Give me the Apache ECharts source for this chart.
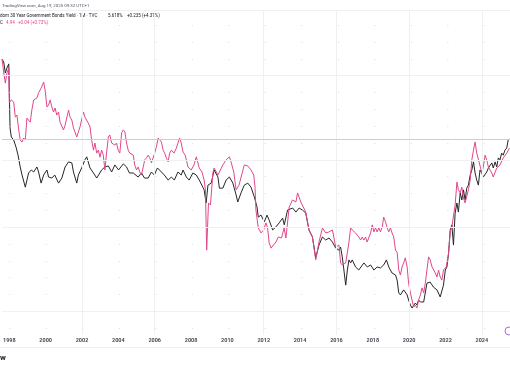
<!DOCTYPE html>
<html>
<head>
<meta charset="utf-8">
<script src="https://cdn.jsdelivr.net/npm/echarts@6/dist/echarts.min.js"></script>
<style>
html,body{margin:0;padding:0;background:#ffffff;}
#chart{width:510px;height:369px;}
</style>
</head>
<body>
<div id="chart"></div>
<script>
// ---- data ----
const yearTicks = [1998,2000,2002,2004,2006,2008,2010,2012,2014,2016,2018,2020,2022,2024];
const majorXYears = [2002,2006,2012,2016,2020,2024];
const majorYLevels = [0.5,3,5,7.5];
const minorYLevels = [0,0.5,1,1.5,2,2.5,3,3.5,4,4.5,5,5.5,6,6.5,7,7.5,8,8.5,9];
const lastValue = 5.618;

// UK 30Y (black)
const kTime = [1997.60,1997.69,1997.78,1997.87,1997.97,1998.04,1998.11,1998.24,1998.37,1998.48,1998.60,1998.70,1998.88,1998.97,1999.06,1999.21,1999.34,1999.52,1999.61,1999.75,1999.89,2000.07,2000.16,2000.34,2000.50,2000.71,2000.89,2001.07,2001.26,2001.44,2001.53,2001.71,2001.80,2001.98,2002.16,2002.26,2002.44,2002.63,2002.81,2003.08,2003.26,2003.45,2003.63,2003.81,2004.01,2004.27,2004.45,2004.61,2004.82,2005.09,2005.27,2005.44,2005.64,2005.82,2005.98,2006.15,2006.37,2006.53,2006.74,2006.92,2007.08,2007.28,2007.46,2007.56,2007.74,2007.90,2008.10,2008.29,2008.45,2008.65,2008.72,2008.83,2008.93,2009.11,2009.27,2009.48,2009.56,2009.75,2009.93,2010.11,2010.30,2010.48,2010.57,2010.75,2010.93,2011.12,2011.30,2011.48,2011.63,2011.70,2011.85,2012.03,2012.18,2012.30,2012.49,2012.67,2012.85,2013.04,2013.13,2013.31,2013.40,2013.59,2013.77,2013.95,2014.13,2014.31,2014.49,2014.68,2014.86,2015.04,2015.23,2015.41,2015.59,2015.78,2015.96,2016.14,2016.23,2016.32,2016.41,2016.51,2016.60,2016.69,2016.78,2016.87,2017.05,2017.23,2017.51,2017.70,2017.88,2018.06,2018.24,2018.42,2018.60,2018.75,2018.88,2018.97,2019.06,2019.25,2019.34,2019.43,2019.52,2019.70,2019.89,2019.97,2020.07,2020.16,2020.25,2020.34,2020.43,2020.52,2020.62,2020.80,2020.98,2021.16,2021.34,2021.53,2021.71,2021.80,2021.89,2021.99,2022.08,2022.17,2022.26,2022.35,2022.44,2022.53,2022.63,2022.71,2022.81,2022.90,2022.99,2023.08,2023.17,2023.26,2023.36,2023.45,2023.54,2023.63,2023.72,2023.81,2023.90,2024.00,2024.08,2024.27,2024.36,2024.45,2024.55,2024.63,2024.73,2024.82,2024.91,2025.00,2025.09,2025.18,2025.27,2025.37,2025.45,2025.52];
const kValue = [7.99,7.91,7.58,7.73,7.85,5.95,5.68,5.59,5.38,5.14,4.79,4.55,4.19,4.40,4.61,4.70,4.64,4.79,4.64,4.31,4.55,4.70,4.49,4.46,4.55,4.31,4.46,4.79,4.94,4.91,4.64,4.31,4.55,4.76,5.00,5.09,4.76,4.61,4.46,4.70,4.79,4.82,4.64,4.85,4.70,4.88,4.79,4.61,4.61,4.49,4.61,4.46,4.46,4.64,4.55,4.76,4.64,4.55,4.40,4.49,4.40,4.64,4.55,4.70,4.49,4.40,4.61,4.55,4.40,4.19,4.11,3.72,4.25,4.31,4.70,4.49,4.16,4.16,4.40,4.49,4.31,3.96,3.75,4.02,4.25,4.31,4.19,3.90,3.60,3.30,3.36,3.16,3.36,3.21,2.92,3.01,3.13,3.27,3.07,3.51,3.51,3.57,3.45,3.57,3.51,3.42,2.92,2.71,2.09,2.47,2.71,2.62,2.68,2.56,2.38,2.32,2.41,2.12,1.73,1.28,1.73,2.03,1.94,2.03,1.82,1.73,1.94,1.82,1.88,1.73,1.82,1.79,1.88,2.03,1.82,1.73,1.64,1.58,1.43,1.05,0.99,1.14,0.99,0.84,0.69,0.60,0.63,0.75,0.69,0.84,0.78,0.78,1.34,1.37,1.22,1.14,0.93,0.90,1.28,1.73,1.82,2.23,2.92,3.07,2.47,3.42,3.72,3.45,4.02,3.81,4.11,3.81,4.16,4.25,4.55,4.70,4.94,4.61,4.40,4.25,4.70,4.61,4.49,4.64,4.76,4.76,4.91,4.76,4.94,4.79,5.06,5.00,5.20,5.14,5.29,5.35,5.59,5.618];

// comparison symbol (pink)
const pTime = [1997.60,1997.69,1997.78,1997.87,1997.97,1998.00,1998.11,1998.24,1998.33,1998.42,1998.52,1998.60,1998.70,1998.79,1998.88,1998.97,1999.06,1999.15,1999.24,1999.34,1999.42,1999.52,1999.61,1999.75,1999.89,1999.97,2000.07,2000.16,2000.25,2000.34,2000.43,2000.52,2000.61,2000.71,2000.79,2000.89,2000.98,2001.07,2001.26,2001.34,2001.44,2001.53,2001.62,2001.71,2001.80,2001.89,2001.98,2002.08,2002.16,2002.26,2002.35,2002.44,2002.53,2002.63,2002.71,2002.81,2002.90,2002.99,2003.08,2003.17,2003.26,2003.35,2003.45,2003.53,2003.63,2003.72,2003.81,2003.90,2003.99,2004.08,2004.18,2004.27,2004.36,2004.45,2004.54,2004.63,2004.72,2004.82,2004.90,2005.00,2005.09,2005.18,2005.27,2005.37,2005.45,2005.55,2005.64,2005.73,2005.82,2006.00,2006.09,2006.19,2006.27,2006.37,2006.46,2006.55,2006.64,2006.74,2006.82,2006.92,2007.06,2007.19,2007.37,2007.46,2007.56,2007.68,2007.83,2008.01,2008.16,2008.29,2008.45,2008.60,2008.72,2008.79,2008.86,2008.96,2009.07,2009.20,2009.27,2009.48,2009.75,2009.93,2010.11,2010.20,2010.35,2010.48,2010.64,2010.93,2011.12,2011.30,2011.45,2011.52,2011.57,2011.70,2011.85,2011.99,2012.12,2012.21,2012.30,2012.40,2012.49,2012.67,2012.80,2012.98,2013.12,2013.22,2013.40,2013.58,2013.77,2013.86,2014.04,2014.13,2014.31,2014.49,2014.68,2014.86,2015.04,2015.23,2015.41,2015.59,2015.78,2015.96,2016.14,2016.23,2016.32,2016.51,2016.69,2016.78,2016.87,2017.05,2017.23,2017.33,2017.42,2017.51,2017.60,2017.69,2017.88,2017.97,2018.06,2018.15,2018.24,2018.33,2018.42,2018.52,2018.60,2018.70,2018.79,2018.88,2018.97,2019.06,2019.15,2019.25,2019.34,2019.43,2019.52,2019.61,2019.70,2019.79,2019.89,2019.97,2020.07,2020.16,2020.25,2020.34,2020.43,2020.52,2020.62,2020.71,2020.80,2020.89,2020.98,2021.07,2021.16,2021.26,2021.34,2021.44,2021.53,2021.62,2021.71,2021.80,2021.89,2022.04,2022.17,2022.26,2022.35,2022.44,2022.53,2022.63,2022.71,2022.81,2022.90,2022.99,2023.08,2023.17,2023.26,2023.36,2023.45,2023.54,2023.63,2023.72,2023.86,2024.00,2024.08,2024.18,2024.27,2024.36,2024.45,2024.55,2024.63,2024.82,2025.00,2025.18,2025.37,2025.52];
const pValue = [7.99,7.61,7.28,7.58,7.73,6.69,6.78,6.72,6.27,6.33,5.89,5.59,5.53,5.65,5.59,6.24,6.18,6.12,6.48,6.78,6.78,6.84,6.99,7.13,7.31,7.07,6.57,6.63,6.78,6.57,6.42,6.54,6.33,6.42,6.12,6.09,5.89,6.03,6.48,6.27,6.18,5.95,5.98,5.68,5.83,5.98,6.03,6.42,6.27,6.24,6.09,5.98,5.59,5.29,5.50,5.20,5.29,5.08,5.29,5.14,4.70,5.20,5.68,5.74,5.50,5.53,5.44,5.50,5.29,5.20,5.80,5.89,5.83,5.50,5.29,5.20,5.23,5.14,4.85,4.70,4.79,4.64,4.55,4.79,5.00,5.06,5.14,5.06,4.91,5.20,5.38,5.65,5.68,5.53,5.29,5.20,5.06,4.94,5.20,5.29,5.20,5.35,5.65,5.50,5.23,5.14,4.79,4.70,4.85,5.09,4.76,4.64,4.40,4.11,2.32,3.72,3.66,4.61,4.76,4.55,4.85,5.00,5.09,4.94,4.64,4.11,4.25,4.85,4.82,4.70,4.55,4.19,3.51,2.98,2.83,2.92,3.13,2.98,2.53,2.38,2.38,2.56,2.71,2.68,2.98,2.68,3.60,3.81,3.75,4.02,3.75,3.72,3.45,2.92,2.71,2.03,2.56,2.98,2.83,2.86,2.92,2.41,2.47,1.94,1.88,1.94,2.56,2.98,2.92,2.83,2.71,2.62,2.71,2.62,2.71,2.56,2.83,3.07,2.86,2.98,2.86,2.98,2.86,3.01,3.30,3.16,2.98,2.86,2.98,2.83,2.71,2.32,2.26,1.73,1.58,1.82,1.94,2.09,1.82,1.34,1.05,0.84,0.63,0.69,0.60,0.84,0.99,1.20,1.05,1.34,1.73,2.12,2.03,1.82,1.79,1.64,1.52,1.73,1.52,1.43,1.73,1.82,2.23,2.86,3.01,2.98,3.66,4.34,4.11,4.02,4.19,3.87,3.72,3.75,4.11,4.40,5.00,5.29,5.53,5.20,4.91,4.61,4.79,5.14,5.00,4.79,4.70,4.61,4.49,4.76,4.85,5.06,5.20,5.35];

// ---- chart ----
const FONT = 'Roboto, "Liberation Sans", sans-serif';
const chart = echarts.init(document.getElementById('chart'), null, {renderer: 'canvas'});

const gridMarks = []
  .concat(minorYLevels.map(v => ({yAxis: v, lineStyle: {color: '#dadbe0', width: 1, type: [1, 35.5], dashOffset: 29.2}})))
  .concat(majorYLevels.map(v => ({yAxis: v, lineStyle: {color: '#eff0f2', width: 1, type: 'solid'}})))
  .concat(majorXYears.map(v => ({xAxis: v, lineStyle: {color: '#eff0f2', width: 1, type: 'solid'}})))
  .concat([{yAxis: lastValue, lineStyle: {color: '#cdced2', width: 1, type: 'solid'}}]);

const option = {
  backgroundColor: '#ffffff',
  animation: false,
  grid: {left: 0, right: 0, top: 10, bottom: 34, containLabel: false},
  xAxis: {
    type: 'value', min: 1997.6, max: 2025.55,
    axisLine: {show: false}, axisTick: {show: false}, splitLine: {show: false},
    axisLabel: {
      customValues: yearTicks,
      formatter: v => String(Math.round(v)),
      fontSize: 5.5, fontWeight: 'bold', color: '#4a4d55', fontFamily: FONT, margin: 3
    }
  },
  yAxis: {
    type: 'value', min: -0.2, max: 9.45,
    axisLine: {show: false}, axisTick: {show: false}, splitLine: {show: false}, axisLabel: {show: false}
  },
  series: [
    {
      type: 'line', data: [], z: 1, silent: true,
      markLine: {silent: true, symbol: ['none', 'none'], label: {show: false}, animation: false, data: gridMarks}
    },
    {
      name: 'UK30Y', type: 'line', z: 3, showSymbol: false, silent: true,
      lineStyle: {color: '#262626', width: 1},
      data: kTime.map((t, i) => [t, kValue[i]])
    },
    {
      name: 'Compare', type: 'line', z: 4, showSymbol: false, silent: true,
      lineStyle: {color: '#e0488b', width: 1},
      data: pTime.map((t, i) => [t, pValue[i]])
    }
  ],
  graphic: [
    {type: 'text', left: 2, top: 3.5, style: {text: 'TradingView.com, Aug 19, 2025 09:32 UTC+1', fontSize: 4.4, fill: '#50535e', fontFamily: FONT}},
    {type: 'line', shape: {x1: 0, y1: 10.5, x2: 510, y2: 10.5}, style: {stroke: '#eff0f2', lineWidth: 1}},
    {type: 'text', left: 0, top: 13.5, style: {text: 'dom 30 Year Government Bonds Yield · 1M · TVC', fontSize: 4.5, fill: '#131722', fontFamily: FONT}},
    {type: 'text', left: 108, top: 13.5, style: {text: '5.618%', fontSize: 4.5, fill: '#131722', fontFamily: FONT}},
    {type: 'text', left: 127, top: 13.5, style: {text: '+0.235 (+4.37%)', fontSize: 4.5, fill: '#131722', fontFamily: FONT}},
    {type: 'text', left: 0, top: 20.5, style: {text: 'C', fontSize: 4.5, fill: '#131722', fontFamily: FONT}},
    {type: 'text', left: 6, top: 20.5, style: {text: '4.94', fontSize: 4.5, fill: '#e0488b', fontFamily: FONT}},
    {type: 'text', left: 18, top: 20.5, style: {text: '+0.04 (+0.73%)', fontSize: 4.5, fill: '#e0488b', fontFamily: FONT}},
    {type: 'line', shape: {x1: 0, y1: 347.5, x2: 510, y2: 347.5}, style: {stroke: '#eff0f2', lineWidth: 1}},
    {type: 'text', left: 0, top: 354, style: {text: 'w', fontSize: 8, fontWeight: 'bold', fill: '#131722', fontFamily: FONT}},
    {type: 'circle', shape: {cx: 509, cy: 331, r: 4}, style: {fill: 'none', stroke: '#b865d6', lineWidth: 1}}
  ]
};
chart.setOption(option);
</script>
</body>
</html>
